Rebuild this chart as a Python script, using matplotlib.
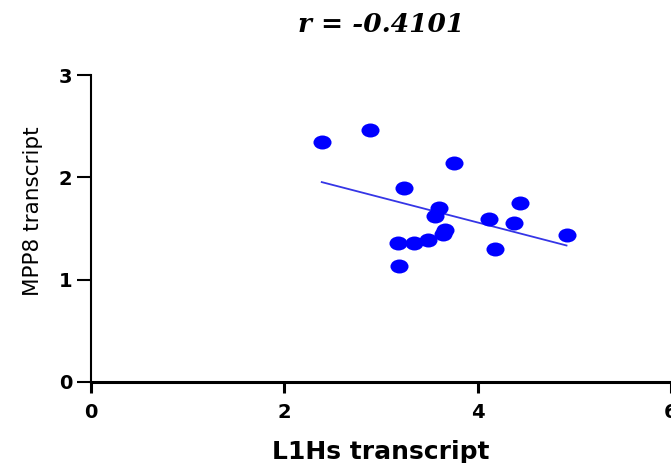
import numpy as np
import matplotlib
matplotlib.use("Agg")
import matplotlib.pyplot as plt
from matplotlib.path import Path
from matplotlib.transforms import Affine2D

# values
l1hs = [2.39, 2.89, 3.76, 3.24, 4.44, 3.60, 3.56, 4.12, 4.38, 4.92,
        3.66, 3.64, 3.49, 3.34, 3.18, 4.18, 3.19]
mpp8 = [2.35, 2.46, 2.14, 1.90, 1.75, 1.70, 1.62, 1.59, 1.55, 1.44,
        1.49, 1.45, 1.39, 1.36, 1.36, 1.30, 1.13]
x_ticks = [0, 2, 4, 6]
y_ticks = [0, 1, 2, 3]
title_text = "r = -0.4101"


def main():
    x = np.array(l1hs)
    y = np.array(mpp8)

    fig = plt.figure(figsize=(6.71, 4.63), dpi=100)
    ax = fig.add_axes([0.1349, 0.175, 0.8651, 0.663])

    # points in the reference are a bit wider than tall
    oval = Path.unit_circle().transformed(Affine2D().scale(1.29, 1.0))
    ax.scatter(x, y, s=169, marker=oval, color="#0000ff", linewidths=0, zorder=3)

    # least squares line over the data range
    slope, icpt = np.polyfit(x, y, 1)
    xs = np.array([x.min(), x.max()])
    ax.plot(xs, slope * xs + icpt, color="#3535e6", lw=1.3, zorder=2)

    ax.set_xlim(0, 6)
    ax.set_ylim(0, 3)
    ax.set_xticks(x_ticks)
    ax.set_yticks(y_ticks)
    ax.set_xticklabels([str(t) for t in x_ticks], fontsize=14, fontweight="bold")
    ax.set_yticklabels([str(t) for t in y_ticks], fontsize=14, fontweight="bold")

    for side in ["top", "right"]:
        ax.spines[side].set_visible(False)
    ax.spines["left"].set_linewidth(1.5)
    ax.spines["bottom"].set_linewidth(2.2)
    ax.spines["left"].set_clip_on(False)
    ax.tick_params(axis="x", length=8, width=2.2, pad=7)
    ax.tick_params(axis="y", length=10, width=1.5, pad=3)

    fig.text(380.5 / 671, 1 - 459 / 463, "L1Hs transcript", ha="center", va="baseline",
             fontsize=18, fontweight="bold", family="DejaVu Sans")
    fig.text(33 / 671, 1 - 211 / 463, "MPP8 transcript", ha="center", va="center",
             rotation=90, fontsize=15.5, family="DejaVu Sans")
    fig.text(381.5 / 671, 1 - 31.7 / 463, title_text, ha="center", va="baseline",
             fontsize=19, fontweight="bold", fontstyle="italic", family="DejaVu Serif")

    fig.savefig("out.png", dpi=100)


if __name__ == "__main__":
    main()
